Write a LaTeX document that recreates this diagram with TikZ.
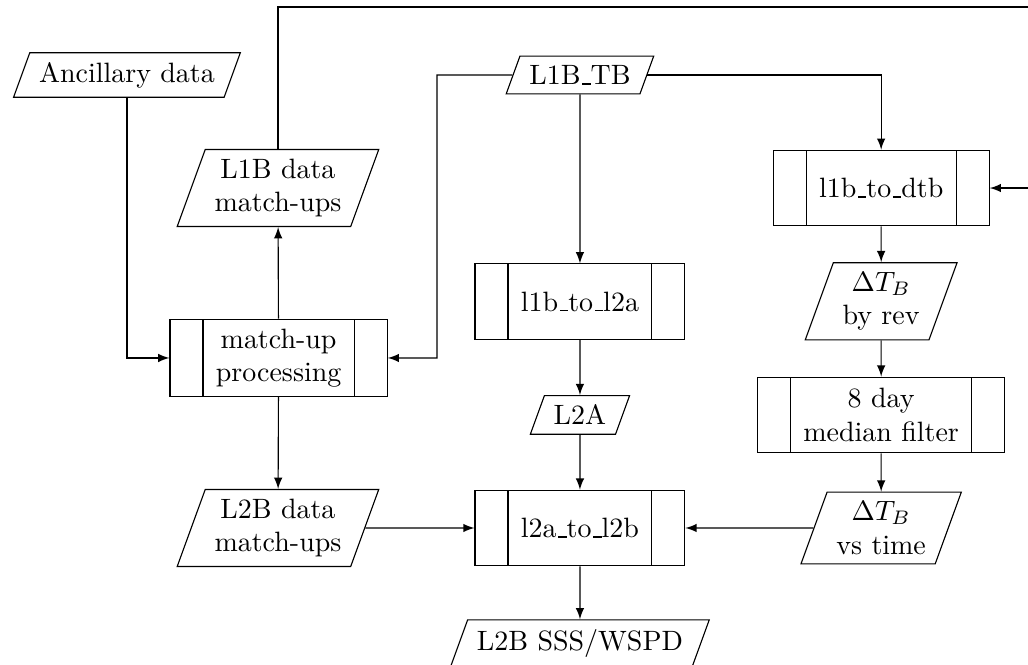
\documentclass[tikz,border=0pt]{standalone}
\usepackage{amsmath}
\usepackage{tikz}
\usetikzlibrary{shapes.geometric}
\usetikzlibrary{arrows}
\usetikzlibrary{calc}

\newcommand{\lowbar}{\leavevmode\kern.06em\vbox{\hrule width.3em}}

\begin{document}
\begin{tikzpicture}[>={latex},
			io/.style = {trapezium, trapezium left angle = 70, trapezium right angle = 110, draw, align = center},
			proc/.style = {rectangle, draw, align = center, minimum height = 27pt, inner xsep = 16.4pt,
				path picture = {
					\draw ($(path picture bounding box.north west) + (11.8pt, 0)$) -- ($(path picture bounding box.south west) + (11.8pt, 0)$);
					\draw ($(path picture bounding box.north east) + (-11.8pt, 0)$) -- ($(path picture bounding box.south east) + (-11.8pt, 0)$);
				}}]
			\useasboundingbox (0, 0) rectangle (12.915, -8.354);
			
			\begin{scope}[every node/.style = {io}]
			\node (anc) at (1.595, -0.942) {Ancillary data};
			\node (l1bmu) at (3.492, -2.362) {L1B data\\match-ups};
			\node (l2bmu) at (3.492, -6.633) {L2B data\\match-ups};
			\node (l1btb) at (7.286, -0.942) {L1B\lowbar TB};
			\node (l2a) at (7.286, -5.213) {L2A};
			\node (l2bout) at (7.286, -8.08) {L2B SSS/WSPD};
			\node (dtbrev) at (11.07, -3.785) {$\Delta T_B$\\by rev};
			\node (dtbtime) at (11.07, -6.633) {$\Delta T_B$\\vs time};
			\end{scope}
			
			\begin{scope}[every node/.style = {proc}]
			\node (mup) at (3.5, -4.497) {match-up\\processing};
			\node (tol2a) at (7.286, -3.79) {l1b\lowbar to\lowbar l2a};
			\node (tol2b) at (7.286, -6.633) {l2a\lowbar to\lowbar l2b};
			\node (todtb) at (11.07, -2.362) {l1b\lowbar to\lowbar dtb};
			\node (median) at (11.07, -5.213) {8 day\\median filter};
			\end{scope}
			
			\coordinate (tbbend) at (5.49, -0.942);
			\coordinate (loop) at (13.5, -0.088);
			
			\begin{scope}[every edge/.style = {draw = black}]
			\path [->] (l1btb) edge (tol2a)
			(tol2a) edge (l2a)
			(l2a) edge (tol2b)
			(tol2b) edge (l2bout)
			(todtb) edge (dtbrev)
			(dtbrev) edge (median)
			(median) edge (dtbtime)
			(mup) edge (l1bmu)
			(mup) edge (l2bmu)
			(l2bmu) edge (tol2b)
			(dtbtime) edge (tol2b);
			\end{scope}
			
			\draw [->] (anc.south) |- (mup.west);
			\draw [->] (l1btb.west) -- (tbbend) |- (mup.east);
			\draw [->] (l1btb.east) -| (todtb.north);
			\draw [->] (l1bmu.north) |- (loop) |- (todtb.east);
			
			\end{tikzpicture}
\end{document}
